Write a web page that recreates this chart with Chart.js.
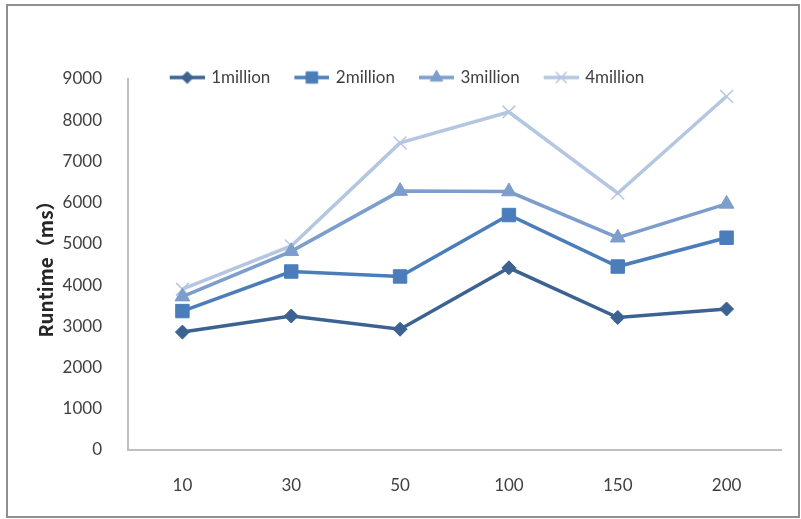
<!DOCTYPE html>
<html>
<head>
<meta charset="utf-8">
<title>Runtime</title>
<script src="https://cdn.jsdelivr.net/npm/chart.js@4/dist/chart.umd.min.js"></script>
<style>
  html, body { margin: 0; padding: 0; background: #ffffff; }
  #wrap { width: 801px; height: 519px; }
</style>
</head>
<body>
<div id="wrap"><canvas id="c" width="801" height="519"></canvas></div>
<script>
// Categories (x axis) and runtime series in milliseconds
const categories = ['10', '30', '50', '100', '150', '200'];
const seriesNames = ['1million', '2million', '3million', '4million'];
const runtime1M = [2860, 3250, 2930, 4420, 3215, 3420];
const runtime2M = [3370, 4330, 4210, 5700, 4450, 5150];
const runtime3M = [3720, 4820, 6280, 6270, 5150, 5970];
const runtime4M = [3900, 4950, 7450, 8200, 6230, 8580];
const yTickValues = [0, 1000, 2000, 3000, 4000, 5000, 6000, 7000, 8000, 9000];
const yAxisTitle = 'Runtime（ms）';

const FONT = 'Lato, "Noto Sans CJK SC", sans-serif';
const TITLE_FONT = '"Noto Sans CJK SC", "Noto Sans", sans-serif';
const TEXT = '#404040';

const styles = [
  { color: '#3B6291', point: 'rectRot', radius: 7, pbw: 1 },
  { color: '#4A7DBA', point: 'rect', radius: 9.5, pbw: 1 },
  { color: '#7D9DCD', point: 'triangle', radius: 8.5, pbw: 1 },
  { color: '#B5C6E1', point: 'crossRot', radius: 9, pbw: 1.5 }
];
const values = [runtime1M, runtime2M, runtime3M, runtime4M];

// Small line-with-marker swatch used as the legend symbol
function legendSwatch(s) {
  const cv = document.createElement('canvas');
  cv.width = 40; cv.height = 20;
  const ctx = cv.getContext('2d');
  ctx.strokeStyle = s.color;
  ctx.lineWidth = 3.5;
  ctx.beginPath(); ctx.moveTo(5, 10); ctx.lineTo(40, 10); ctx.stroke();
  ctx.fillStyle = s.color;
  ctx.lineWidth = s.pbw;
  Chart.helpers.drawPoint(ctx, { pointStyle: s.point, radius: s.radius * 0.85, rotation: 0, borderWidth: s.pbw }, 22.5, 10);
  return cv;
}

const datasets = seriesNames.map((name, i) => ({
  label: name,
  data: values[i],
  borderColor: styles[i].color,
  backgroundColor: styles[i].color,
  borderWidth: 3.5,
  pointStyle: styles[i].point,
  pointRadius: styles[i].radius,
  pointHoverRadius: styles[i].radius,
  pointBackgroundColor: styles[i].color,
  pointBorderColor: styles[i].color,
  pointBorderWidth: styles[i].pbw,
  tension: 0,
  fill: false,
  swatch: legendSwatch(styles[i])
}));

// White background and the outer frame
const framePlugin = {
  id: 'frame',
  beforeDraw(chart) {
    const ctx = chart.ctx;
    ctx.save();
    ctx.fillStyle = '#ffffff';
    ctx.fillRect(0, 0, chart.width, chart.height);
    ctx.strokeStyle = '#8f8f8f';
    ctx.lineWidth = 2;
    ctx.strokeRect(7, 5, 792, 512);
    ctx.restore();
  }
};

// Legend sits over the top of the plot: fixed box height, drawn without clipping
const legendBoxPlugin = {
  id: 'legendBox',
  afterInit(chart) {
    const lg = chart.legend;
    if (lg && !lg._fixedFit) {
      const fit = lg.fit;
      lg.fit = function () { fit.call(this); this.height = 79; };
      lg.draw = function () { if (this.options.display) { this._draw(); } };
      lg._fixedFit = true;
    }
  }
};

new Chart(document.getElementById('c'), {
  type: 'line',
  data: { labels: categories, datasets },
  plugins: [framePlugin, legendBoxPlugin],
  options: {
    responsive: false,
    animation: false,
    devicePixelRatio: 1,
    layout: { padding: { left: 30, right: 20, top: 0, bottom: 0 } },
    plugins: {
      tooltip: { enabled: false },
      legend: {
        display: true,
        position: 'top',
        title: { display: true, text: '', font: { size: 10 }, padding: { top: 36, bottom: 0 } },
        labels: {
          usePointStyle: true,
          pointStyleWidth: 36,
          padding: 21,
          color: TEXT,
          font: { family: FONT, size: 17 },
          generateLabels(chart) {
            return chart.data.datasets.map((d, i) => ({
              text: d.label,
              fillStyle: d.borderColor,
              strokeStyle: d.borderColor,
              lineWidth: 0,
              pointStyle: d.swatch,
              hidden: false,
              datasetIndex: i,
              fontColor: TEXT
            }));
          }
        }
      }
    },
    scales: {
      x: {
        type: 'category',
        offset: true,
        grid: { display: false },
        border: { display: true, color: '#bfbfbf', width: 2 },
        ticks: { color: TEXT, font: { family: FONT, size: 17 }, padding: 17, maxRotation: 0 },
        afterFit(scale) { scale.height = 69; }
      },
      y: {
        min: 0,
        max: 9000,
        grid: { display: false },
        border: { display: true, color: '#bfbfbf', width: 2 },
        afterBuildTicks(scale) { scale.ticks = yTickValues.map(v => ({ value: v })); },
        ticks: {
          color: TEXT,
          font: { family: FONT, size: 17 },
          padding: 18,
          callback: (v) => String(v)
        },
        title: {
          display: true,
          text: yAxisTitle,
          color: '#262626',
          font: { family: TITLE_FONT, size: 19, weight: 'bold' },
          padding: { top: 4, bottom: 0 }
        },
        afterFit(scale) { scale.width = 98; }
      }
    }
  }
});
</script>
</body>
</html>
